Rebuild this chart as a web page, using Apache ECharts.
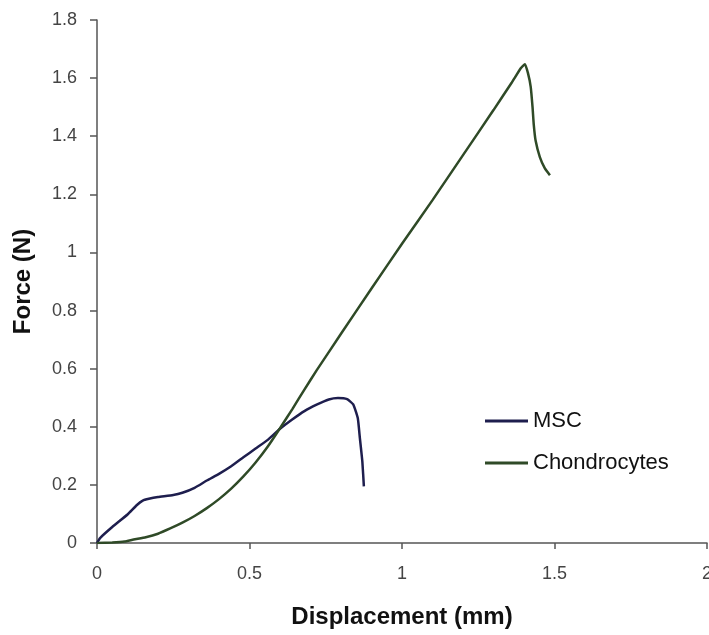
<!DOCTYPE html>
<html lang="en">
<head>
  <meta charset="UTF-8">
  <title>Force vs Displacement</title>
  <script src="https://cdn.jsdelivr.net/npm/echarts@6/dist/echarts.min.js"></script>
  <style>
    html, body { margin: 0; padding: 0; background: #fff; }
    #main { width: 709px; height: 635px; }
  </style>
</head>
<body>
  <div id="main"></div>
  <script type="text/javascript">
    // values: [displacement mm, force N]
    var mscData = [
      [0, 0], [0.01, 0.017], [0.05, 0.055], [0.1, 0.098], [0.13, 0.13], [0.15, 0.146],
      [0.17, 0.152], [0.2, 0.158], [0.25, 0.165], [0.28, 0.173], [0.32, 0.19], [0.36, 0.215],
      [0.4, 0.238], [0.44, 0.264], [0.48, 0.295], [0.52, 0.325], [0.56, 0.355], [0.6, 0.393],
      [0.64, 0.425], [0.68, 0.454], [0.72, 0.476], [0.76, 0.494], [0.79, 0.499], [0.82, 0.495],
      [0.84, 0.477], [0.855, 0.43], [0.862, 0.36], [0.87, 0.28], [0.875, 0.195]
    ];
    var chondroData = [
      [0, 0], [0.05, 0.002], [0.09, 0.005], [0.12, 0.012], [0.16, 0.02], [0.2, 0.032],
      [0.24, 0.05], [0.28, 0.07], [0.32, 0.093], [0.36, 0.12], [0.4, 0.151], [0.44, 0.187],
      [0.48, 0.229], [0.52, 0.277], [0.56, 0.332], [0.6, 0.395], [0.64, 0.46], [0.68, 0.528],
      [0.72, 0.594], [0.8, 0.72], [0.9, 0.876], [1.0, 1.03], [1.1, 1.18], [1.2, 1.335],
      [1.3, 1.49], [1.36, 1.585], [1.39, 1.635], [1.403, 1.648], [1.413, 1.617], [1.422, 1.57],
      [1.428, 1.5], [1.432, 1.44], [1.438, 1.385], [1.452, 1.328], [1.468, 1.29], [1.485, 1.266]
    ];
    var seriesNames = ['MSC', 'Chondrocytes'];
    var seriesColors = ['#1e1e4e', '#2f4a27'];

    var myChart = echarts.init(document.getElementById('main'));
    var axisLine = { lineStyle: { color: '#555', width: 1.5 } };
    var labelStyle = { color: '#444', fontSize: 18, fontFamily: 'Liberation Sans' };
    var nameStyle = { color: '#111', fontSize: 24, fontWeight: 'bold', fontFamily: 'Liberation Sans' };

    var option = {
      animation: false,
      grid: { left: 97, right: 2, top: 20, bottom: 92, outerBoundsMode: 'none' },
      legend: {
        orient: 'vertical',
        left: 480,
        top: 405,
        itemWidth: 43,
        itemHeight: 3,
        itemGap: 20,
        icon: 'rect',
        textStyle: { color: '#111', fontSize: 22, fontFamily: 'Liberation Sans' },
        data: seriesNames
      },
      xAxis: {
        type: 'value',
        min: 0, max: 2, interval: 0.5,
        name: 'Displacement (mm)',
        nameLocation: 'middle',
        nameGap: 62,
        nameTextStyle: nameStyle,
        axisLine: axisLine,
        axisTick: { show: true, length: 6, lineStyle: { color: '#555', width: 1.5 } },
        axisLabel: Object.assign({ margin: 22 }, labelStyle),
        splitLine: { show: false }
      },
      yAxis: {
        type: 'value',
        min: 0, max: 1.8, interval: 0.2,
        name: 'Force (N)',
        nameLocation: 'middle',
        nameGap: 62,
        nameTextStyle: nameStyle,
        axisLine: Object.assign({ show: true }, axisLine),
        axisTick: { show: true, length: 7, lineStyle: { color: '#555', width: 1.5 } },
        axisLabel: Object.assign({ margin: 20 }, labelStyle),
        splitLine: { show: false }
      },
      series: [{
        name: seriesNames[0],
        type: 'line',
        data: mscData,
        showSymbol: false,
        smooth: 0.15,
        lineStyle: { color: seriesColors[0], width: 2.5 },
        itemStyle: { color: seriesColors[0] }
      }, {
        name: seriesNames[1],
        type: 'line',
        data: chondroData,
        showSymbol: false,
        smooth: 0.15,
        lineStyle: { color: seriesColors[1], width: 2.5 },
        itemStyle: { color: seriesColors[1] }
      }]
    };
    myChart.setOption(option);
  </script>
</body>
</html>
